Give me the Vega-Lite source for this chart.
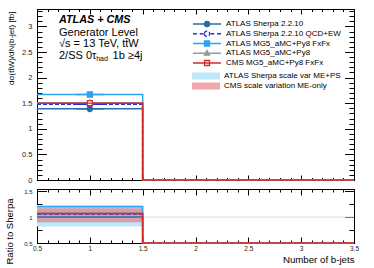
{
  "$schema": "https://vega.github.io/schema/vega-lite/v6.json",
  "padding": {"left": 3, "top": 8, "right": 4, "bottom": 2},
  "bounds": "flush",
  "config": {
    "font": "Liberation Sans",
    "view": {"stroke": "#000", "strokeWidth": 1},
    "axis": {"domainColor": "#000", "tickColor": "#000", "labelColor": "#222", "titleColor": "#000", "grid": false, "labelFlush": false, "labelOverlap": false, "titleFontWeight": "normal", "domainWidth": 1, "tickWidth": 1, "labelFont": "Liberation Sans", "titleFont": "Liberation Sans"},
    "legend": {"labelFont": "Liberation Sans"}
  },
  "datasets": {
    "top": [
      {"series": "ATLAS Sherpa 2.2.10", "x": 0.5, "y": 1.39},
      {"series": "ATLAS Sherpa 2.2.10", "x": 1.5, "y": 0},
      {"series": "ATLAS Sherpa 2.2.10", "x": 3.5, "y": 0},
      {"series": "ATLAS Sherpa 2.2.10 QCD+EW", "x": 0.5, "y": 1.48},
      {"series": "ATLAS Sherpa 2.2.10 QCD+EW", "x": 1.5, "y": 0},
      {"series": "ATLAS Sherpa 2.2.10 QCD+EW", "x": 3.5, "y": 0},
      {"series": "ATLAS MG5_aMC+Py8 FxFx", "x": 0.5, "y": 1.67},
      {"series": "ATLAS MG5_aMC+Py8 FxFx", "x": 1.5, "y": 0},
      {"series": "ATLAS MG5_aMC+Py8 FxFx", "x": 3.5, "y": 0},
      {"series": "ATLAS MG5_aMC+Py8", "x": 0.5, "y": 1.51},
      {"series": "ATLAS MG5_aMC+Py8", "x": 1.5, "y": 0},
      {"series": "ATLAS MG5_aMC+Py8", "x": 3.5, "y": 0},
      {"series": "CMS MG5_aMC+Py8 FxFx", "x": 0.5, "y": 1.5},
      {"series": "CMS MG5_aMC+Py8 FxFx", "x": 1.5, "y": 0},
      {"series": "CMS MG5_aMC+Py8 FxFx", "x": 3.5, "y": 0}
    ],
    "pts": [
      {"series": "ATLAS Sherpa 2.2.10", "x": 1, "y": 1.39},
      {"series": "ATLAS Sherpa 2.2.10 QCD+EW", "x": 1, "y": 1.48},
      {"series": "ATLAS MG5_aMC+Py8 FxFx", "x": 1, "y": 1.67},
      {"series": "ATLAS MG5_aMC+Py8", "x": 1, "y": 1.51},
      {"series": "CMS MG5_aMC+Py8 FxFx", "x": 1, "y": 1.5}
    ],
    "ratio": [
      {"series": "ATLAS Sherpa 2.2.10", "x": 0.5, "r": 1},
      {"series": "ATLAS Sherpa 2.2.10", "x": 1.5, "r": 0},
      {"series": "ATLAS Sherpa 2.2.10", "x": 3.5, "r": 0},
      {"series": "ATLAS Sherpa 2.2.10 QCD+EW", "x": 0.5, "r": 1.06},
      {"series": "ATLAS Sherpa 2.2.10 QCD+EW", "x": 1.5, "r": 0},
      {"series": "ATLAS Sherpa 2.2.10 QCD+EW", "x": 3.5, "r": 0},
      {"series": "ATLAS MG5_aMC+Py8 FxFx", "x": 0.5, "r": 1.2},
      {"series": "ATLAS MG5_aMC+Py8 FxFx", "x": 1.5, "r": 0},
      {"series": "ATLAS MG5_aMC+Py8 FxFx", "x": 3.5, "r": 0},
      {"series": "ATLAS MG5_aMC+Py8", "x": 0.5, "r": 1.08},
      {"series": "ATLAS MG5_aMC+Py8", "x": 1.5, "r": 0},
      {"series": "ATLAS MG5_aMC+Py8", "x": 3.5, "r": 0},
      {"series": "CMS MG5_aMC+Py8 FxFx", "x": 0.5, "r": 1.07},
      {"series": "CMS MG5_aMC+Py8 FxFx", "x": 1.5, "r": 0},
      {"series": "CMS MG5_aMC+Py8 FxFx", "x": 3.5, "r": 0}
    ],
    "bands": [
      {"band": "ATLAS Sherpa scale var ME+PS", "x1": 0.5, "x2": 1.5, "lo": 0.82, "hi": 1.23},
      {"band": "CMS scale variation ME-only", "x1": 0.5, "x2": 1.5, "lo": 0.9, "hi": 1.17}
    ]
  },
  "spacing": 9,
  "resolve": {"scale": {"x": "independent", "y": "independent", "stroke": "independent", "strokeDash": "independent", "color": "independent", "opacity": "independent", "fill": "independent", "shape": "independent"}},
  "vconcat": [
    {
      "width": 317,
      "height": 171,
      "resolve": {"axis": {"x": "independent", "y": "independent"}},
      "layer": [
        {
          "data": {"name": "top"},
          "mark": {"type": "line", "interpolate": "step-after", "strokeWidth": 1.5},
          "encoding": {
            "x": {"field": "x", "type": "quantitative", "scale": {"domain": [0.5, 3.5], "nice": false, "zero": false}, "axis": {"orient": "bottom", "values": [0.5, 1, 1.5, 2, 2.5, 3, 3.5], "tickSize": -5, "labels": false, "title": null}},
            "y": {"field": "y", "type": "quantitative", "scale": {"domain": [0, 3.34], "nice": false}, "axis": {"orient": "left", "values": [0, 0.5, 1, 1.5, 2, 2.5, 3], "tickSize": -9.5, "labelPadding": 14.5, "labelFontSize": 7.5, "format": "~g", "title": "dσ(tt̄W)/dN(b-jet) [fb]", "titleFontSize": 8, "titleAnchor": "end", "titleAngle": 270, "titleBaseline": "middle", "titleX": -26, "titleY": 2}},
            "stroke": {"field": "series", "type": "nominal", "scale": {"domain": ["ATLAS Sherpa 2.2.10", "ATLAS Sherpa 2.2.10 QCD+EW", "ATLAS MG5_aMC+Py8 FxFx", "ATLAS MG5_aMC+Py8", "CMS MG5_aMC+Py8 FxFx"], "range": ["#2a6fa3", "#2b2bdd", "#2aa3f0", "#999999", "#d62a2a"]}, "legend": {"orient": "none", "legendX": 155, "legendY": 11, "title": null, "symbolSize": 784, "clipHeight": 8, "rowPadding": 1.75, "labelFontSize": 8, "labelOffset": 4, "symbolStrokeWidth": 1.3, "labelLimit": 300, "padding": 0, "labelColor": "#000"}},
            "strokeDash": {"field": "series", "type": "nominal", "scale": {"domain": ["ATLAS Sherpa 2.2.10", "ATLAS Sherpa 2.2.10 QCD+EW", "ATLAS MG5_aMC+Py8 FxFx", "ATLAS MG5_aMC+Py8", "CMS MG5_aMC+Py8 FxFx"], "range": [[1, 0], [4, 2], [1, 0], [1, 0], [1, 0]]}, "legend": null}
          }
        },
        {
          "data": {"name": "pts"},
          "mark": {"type": "point", "filled": true, "size": 784, "strokeWidth": 1.3, "opacity": 1},
          "encoding": {
            "x": {"field": "x", "type": "quantitative", "axis": null},
            "y": {"field": "y", "type": "quantitative", "axis": null},
            "shape": {"field": "series", "type": "nominal", "scale": {"domain": ["ATLAS Sherpa 2.2.10", "ATLAS Sherpa 2.2.10 QCD+EW", "ATLAS MG5_aMC+Py8 FxFx", "ATLAS MG5_aMC+Py8", "CMS MG5_aMC+Py8 FxFx"], "range": [
              "M-1,0H1M-0.19,0A0.19,0.19,0,1,0,0.19,0A0.19,0.19,0,1,0,-0.19,0Z",
              "M-1,0H-0.72M-0.52,0H-0.26M0.26,0H0.52M0.72,0H1M-0.19,0A0.19,0.19,0,1,0,0.19,0A0.19,0.19,0,1,0,-0.19,0Z",
              "M-1,0H1M-0.18,-0.18H0.18V0.18H-0.18Z",
              "M-1,0H1M0,-0.2L0.19,0.14H-0.19Z",
              "M-1,0H1M-0.18,-0.18H0.18V0.18H-0.18Z"
            ]}, "legend": {"orient": "none", "legendX": 155, "legendY": 11, "title": null, "symbolSize": 784, "clipHeight": 8, "rowPadding": 1.75, "labelFontSize": 8, "labelOffset": 4, "symbolStrokeWidth": 1.3, "labelLimit": 300, "padding": 0, "labelColor": "#000"}},
            "fill": {"field": "series", "type": "nominal", "scale": {"domain": ["ATLAS Sherpa 2.2.10", "ATLAS Sherpa 2.2.10 QCD+EW", "ATLAS MG5_aMC+Py8 FxFx", "ATLAS MG5_aMC+Py8", "CMS MG5_aMC+Py8 FxFx"], "range": ["#2a6fa3", "#ffffff", "#2aa3f0", "#999999", "#ffffff"]}, "legend": {"orient": "none", "legendX": 155, "legendY": 11, "title": null, "symbolSize": 784, "clipHeight": 8, "rowPadding": 1.75, "labelFontSize": 8, "labelOffset": 4, "symbolStrokeWidth": 1.3, "labelLimit": 300, "padding": 0, "labelColor": "#000"}},
            "stroke": {"field": "series", "type": "nominal", "legend": {"orient": "none", "legendX": 155, "legendY": 11, "title": null, "symbolSize": 784, "clipHeight": 8, "rowPadding": 1.75, "labelFontSize": 8, "labelOffset": 4, "symbolStrokeWidth": 1.3, "labelLimit": 300, "padding": 0, "labelColor": "#000"}}
          }
        },
        {
          "data": {"name": "top"},
          "mark": {"type": "point", "opacity": 0},
          "encoding": {
            "x": {"field": "x", "type": "quantitative", "axis": {"orient": "top", "values": [0.5, 1, 1.5, 2, 2.5, 3, 3.5], "tickSize": -5, "labels": false, "title": null}},
            "y": {"field": "y", "type": "quantitative", "axis": {"orient": "right", "values": [0, 0.5, 1, 1.5, 2, 2.5, 3], "tickSize": -9.5, "labels": false, "title": null}}
          }
        },
        {
          "data": {"name": "top"},
          "mark": {"type": "point", "opacity": 0},
          "encoding": {
            "x": {"field": "x", "type": "quantitative", "axis": {"orient": "bottom", "domain": false, "values": [0.6, 0.7, 0.8, 0.9, 1.1, 1.2, 1.3, 1.4, 1.6, 1.7, 1.8, 1.9, 2.1, 2.2, 2.3, 2.4, 2.6, 2.7, 2.8, 2.9, 3.1, 3.2, 3.3, 3.4], "tickSize": -2.5, "labels": false, "title": null}},
            "y": {"field": "y", "type": "quantitative", "axis": {"orient": "left", "domain": false, "values": [0.1, 0.2, 0.3, 0.4, 0.6, 0.7, 0.8, 0.9, 1.1, 1.2, 1.3, 1.4, 1.6, 1.7, 1.8, 1.9, 2.1, 2.2, 2.3, 2.4, 2.6, 2.7, 2.8, 2.9, 3.1, 3.2, 3.3], "tickSize": -5, "labels": false, "title": null}}
          }
        },
        {
          "data": {"name": "top"},
          "mark": {"type": "point", "opacity": 0},
          "encoding": {
            "x": {"field": "x", "type": "quantitative", "axis": {"orient": "top", "domain": false, "values": [0.6, 0.7, 0.8, 0.9, 1.1, 1.2, 1.3, 1.4, 1.6, 1.7, 1.8, 1.9, 2.1, 2.2, 2.3, 2.4, 2.6, 2.7, 2.8, 2.9, 3.1, 3.2, 3.3, 3.4], "tickSize": -2.5, "labels": false, "title": null}},
            "y": {"field": "y", "type": "quantitative", "axis": {"orient": "right", "domain": false, "values": [0.1, 0.2, 0.3, 0.4, 0.6, 0.7, 0.8, 0.9, 1.1, 1.2, 1.3, 1.4, 1.6, 1.7, 1.8, 1.9, 2.1, 2.2, 2.3, 2.4, 2.6, 2.7, 2.8, 2.9, 3.1, 3.2, 3.3], "tickSize": -5, "labels": false, "title": null}}
          }
        },
        {
          "data": {"values": [{}]},
          "mark": {"type": "text", "align": "left", "baseline": "middle", "fontSize": 10.8, "fontWeight": "bold", "fontStyle": "italic", "color": "#000"},
          "encoding": {"x": {"datum": 0.708, "type": "quantitative", "axis": null}, "y": {"datum": 3.119, "type": "quantitative", "axis": null}, "text": {"value": "ATLAS + CMS"}}
        },
        {
          "data": {"values": [{}]},
          "mark": {"type": "text", "align": "left", "baseline": "middle", "fontSize": 11, "color": "#000"},
          "encoding": {"x": {"datum": 0.708, "type": "quantitative", "axis": null}, "y": {"datum": 2.865, "type": "quantitative", "axis": null}, "text": {"value": "Generator Level"}}
        },
        {
          "data": {"values": [{}]},
          "mark": {"type": "text", "align": "left", "baseline": "middle", "fontSize": 11, "color": "#000"},
          "encoding": {"x": {"datum": 0.708, "type": "quantitative", "axis": null}, "y": {"datum": 2.65, "type": "quantitative", "axis": null}, "text": {"value": "√s = 13 TeV, tt̄W"}}
        },
        {
          "data": {"values": [{}]},
          "mark": {"type": "text", "align": "left", "baseline": "middle", "fontSize": 11, "color": "#000"},
          "encoding": {"x": {"datum": 0.708, "type": "quantitative", "axis": null}, "y": {"datum": 2.422, "type": "quantitative", "axis": null}, "text": {"value": "2/SS 0τ"}}
        },
        {
          "data": {"values": [{}]},
          "mark": {"type": "text", "align": "left", "baseline": "middle", "fontSize": 7, "color": "#000"},
          "encoding": {"x": {"datum": 1.06, "type": "quantitative", "axis": null}, "y": {"datum": 2.363, "type": "quantitative", "axis": null}, "text": {"value": "had"}}
        },
        {
          "data": {"values": [{}]},
          "mark": {"type": "text", "align": "left", "baseline": "middle", "fontSize": 11, "color": "#000"},
          "encoding": {"x": {"datum": 1.215, "type": "quantitative", "axis": null}, "y": {"datum": 2.422, "type": "quantitative", "axis": null}, "text": {"value": "1b ≥4j"}}
        }
      ]
    },
    {
      "width": 317,
      "height": 54,
      "resolve": {"axis": {"x": "independent", "y": "independent"}},
      "layer": [
        {
          "data": {"values": [{}]},
          "mark": {"type": "rule", "color": "#dddddd", "strokeWidth": 1},
          "encoding": {"y": {"datum": 1, "type": "quantitative", "axis": null}}
        },
        {
          "data": {"name": "bands"},
          "mark": {"type": "rect"},
          "encoding": {
            "x": {"field": "x1", "type": "quantitative", "axis": null},
            "x2": {"field": "x2"},
            "y": {"field": "lo", "type": "quantitative", "axis": null},
            "y2": {"field": "hi"},
            "color": {"field": "band", "type": "nominal", "scale": {"domain": ["ATLAS Sherpa scale var ME+PS", "CMS scale variation ME-only"], "range": ["#bde8fa", "#e8606a"]}, "legend": {"orient": "none", "legendX": 155, "legendY": -117, "title": null, "symbolType": "M-1,-0.25H1V0.25H-1Z", "symbolSize": 784, "clipHeight": 8, "rowPadding": 2, "labelFontSize": 8, "labelOffset": 4, "symbolStrokeWidth": 0, "labelLimit": 300, "padding": 0, "labelColor": "#000"}},
            "opacity": {"field": "band", "type": "nominal", "scale": {"domain": ["ATLAS Sherpa scale var ME+PS", "CMS scale variation ME-only"], "range": [1, 0.55]}, "legend": {"orient": "none", "legendX": 155, "legendY": -117, "title": null, "symbolType": "M-1,-0.25H1V0.25H-1Z", "symbolSize": 784, "clipHeight": 8, "rowPadding": 2, "labelFontSize": 8, "labelOffset": 4, "symbolStrokeWidth": 0, "labelLimit": 300, "padding": 0, "labelColor": "#000"}}
          }
        },
        {
          "data": {"name": "ratio"},
          "mark": {"type": "line", "interpolate": "step-after", "strokeWidth": 1.5},
          "encoding": {
            "x": {"field": "x", "type": "quantitative", "scale": {"domain": [0.5, 3.5], "nice": false, "zero": false}, "axis": {"orient": "bottom", "values": [0.5, 1, 1.5, 2, 2.5, 3, 3.5], "tickSize": -6, "labelPadding": 8, "labelFontSize": 6.5, "format": "~g", "title": "Number of b-jets", "titleFontSize": 9.7, "titleAnchor": "end", "titlePadding": 3}},
            "y": {"field": "r", "type": "quantitative", "scale": {"domain": [0.5, 1.54], "nice": false, "zero": false, "clamp": true}, "axis": {"orient": "left", "values": [0.5, 1, 1.5], "tickSize": -9.5, "labelPadding": 14.5, "labelFontSize": 6, "format": "~g", "title": "Ratio to Sherpa", "titleFontSize": 9.5, "titleAnchor": "end", "titleAngle": 270, "titleBaseline": "middle", "titleX": -28, "titleY": 9}},
            "stroke": {"field": "series", "type": "nominal", "scale": {"domain": ["ATLAS Sherpa 2.2.10", "ATLAS Sherpa 2.2.10 QCD+EW", "ATLAS MG5_aMC+Py8 FxFx", "ATLAS MG5_aMC+Py8", "CMS MG5_aMC+Py8 FxFx"], "range": ["#2a6fa3", "#2b2bdd", "#2aa3f0", "#999999", "#d62a2a"]}, "legend": null},
            "strokeDash": {"field": "series", "type": "nominal", "scale": {"domain": ["ATLAS Sherpa 2.2.10", "ATLAS Sherpa 2.2.10 QCD+EW", "ATLAS MG5_aMC+Py8 FxFx", "ATLAS MG5_aMC+Py8", "CMS MG5_aMC+Py8 FxFx"], "range": [[1, 0], [4, 2], [1, 0], [1, 0], [1, 0]]}, "legend": null}
          }
        },
        {
          "data": {"name": "ratio"},
          "mark": {"type": "point", "opacity": 0},
          "encoding": {
            "x": {"field": "x", "type": "quantitative", "axis": {"orient": "top", "values": [0.5, 1, 1.5, 2, 2.5, 3, 3.5], "tickSize": -6, "labels": false, "title": null}},
            "y": {"field": "r", "type": "quantitative", "axis": {"orient": "right", "values": [0.5, 1, 1.5], "tickSize": -9.5, "labels": false, "title": null}}
          }
        },
        {
          "data": {"name": "ratio"},
          "mark": {"type": "point", "opacity": 0},
          "encoding": {
            "x": {"field": "x", "type": "quantitative", "axis": {"orient": "bottom", "domain": false, "values": [0.6, 0.7, 0.8, 0.9, 1.1, 1.2, 1.3, 1.4, 1.6, 1.7, 1.8, 1.9, 2.1, 2.2, 2.3, 2.4, 2.6, 2.7, 2.8, 2.9, 3.1, 3.2, 3.3, 3.4], "tickSize": -3, "labels": false, "title": null}},
            "y": {"field": "r", "type": "quantitative", "axis": {"orient": "left", "domain": false, "values": [0.75, 1.25], "tickSize": -5, "labels": false, "title": null}}
          }
        },
        {
          "data": {"name": "ratio"},
          "mark": {"type": "point", "opacity": 0},
          "encoding": {
            "x": {"field": "x", "type": "quantitative", "axis": {"orient": "top", "domain": false, "values": [0.6, 0.7, 0.8, 0.9, 1.1, 1.2, 1.3, 1.4, 1.6, 1.7, 1.8, 1.9, 2.1, 2.2, 2.3, 2.4, 2.6, 2.7, 2.8, 2.9, 3.1, 3.2, 3.3, 3.4], "tickSize": -3, "labels": false, "title": null}},
            "y": {"field": "r", "type": "quantitative", "axis": {"orient": "right", "domain": false, "values": [0.75, 1.25], "tickSize": -5, "labels": false, "title": null}}
          }
        }
      ]
    }
  ]
}
